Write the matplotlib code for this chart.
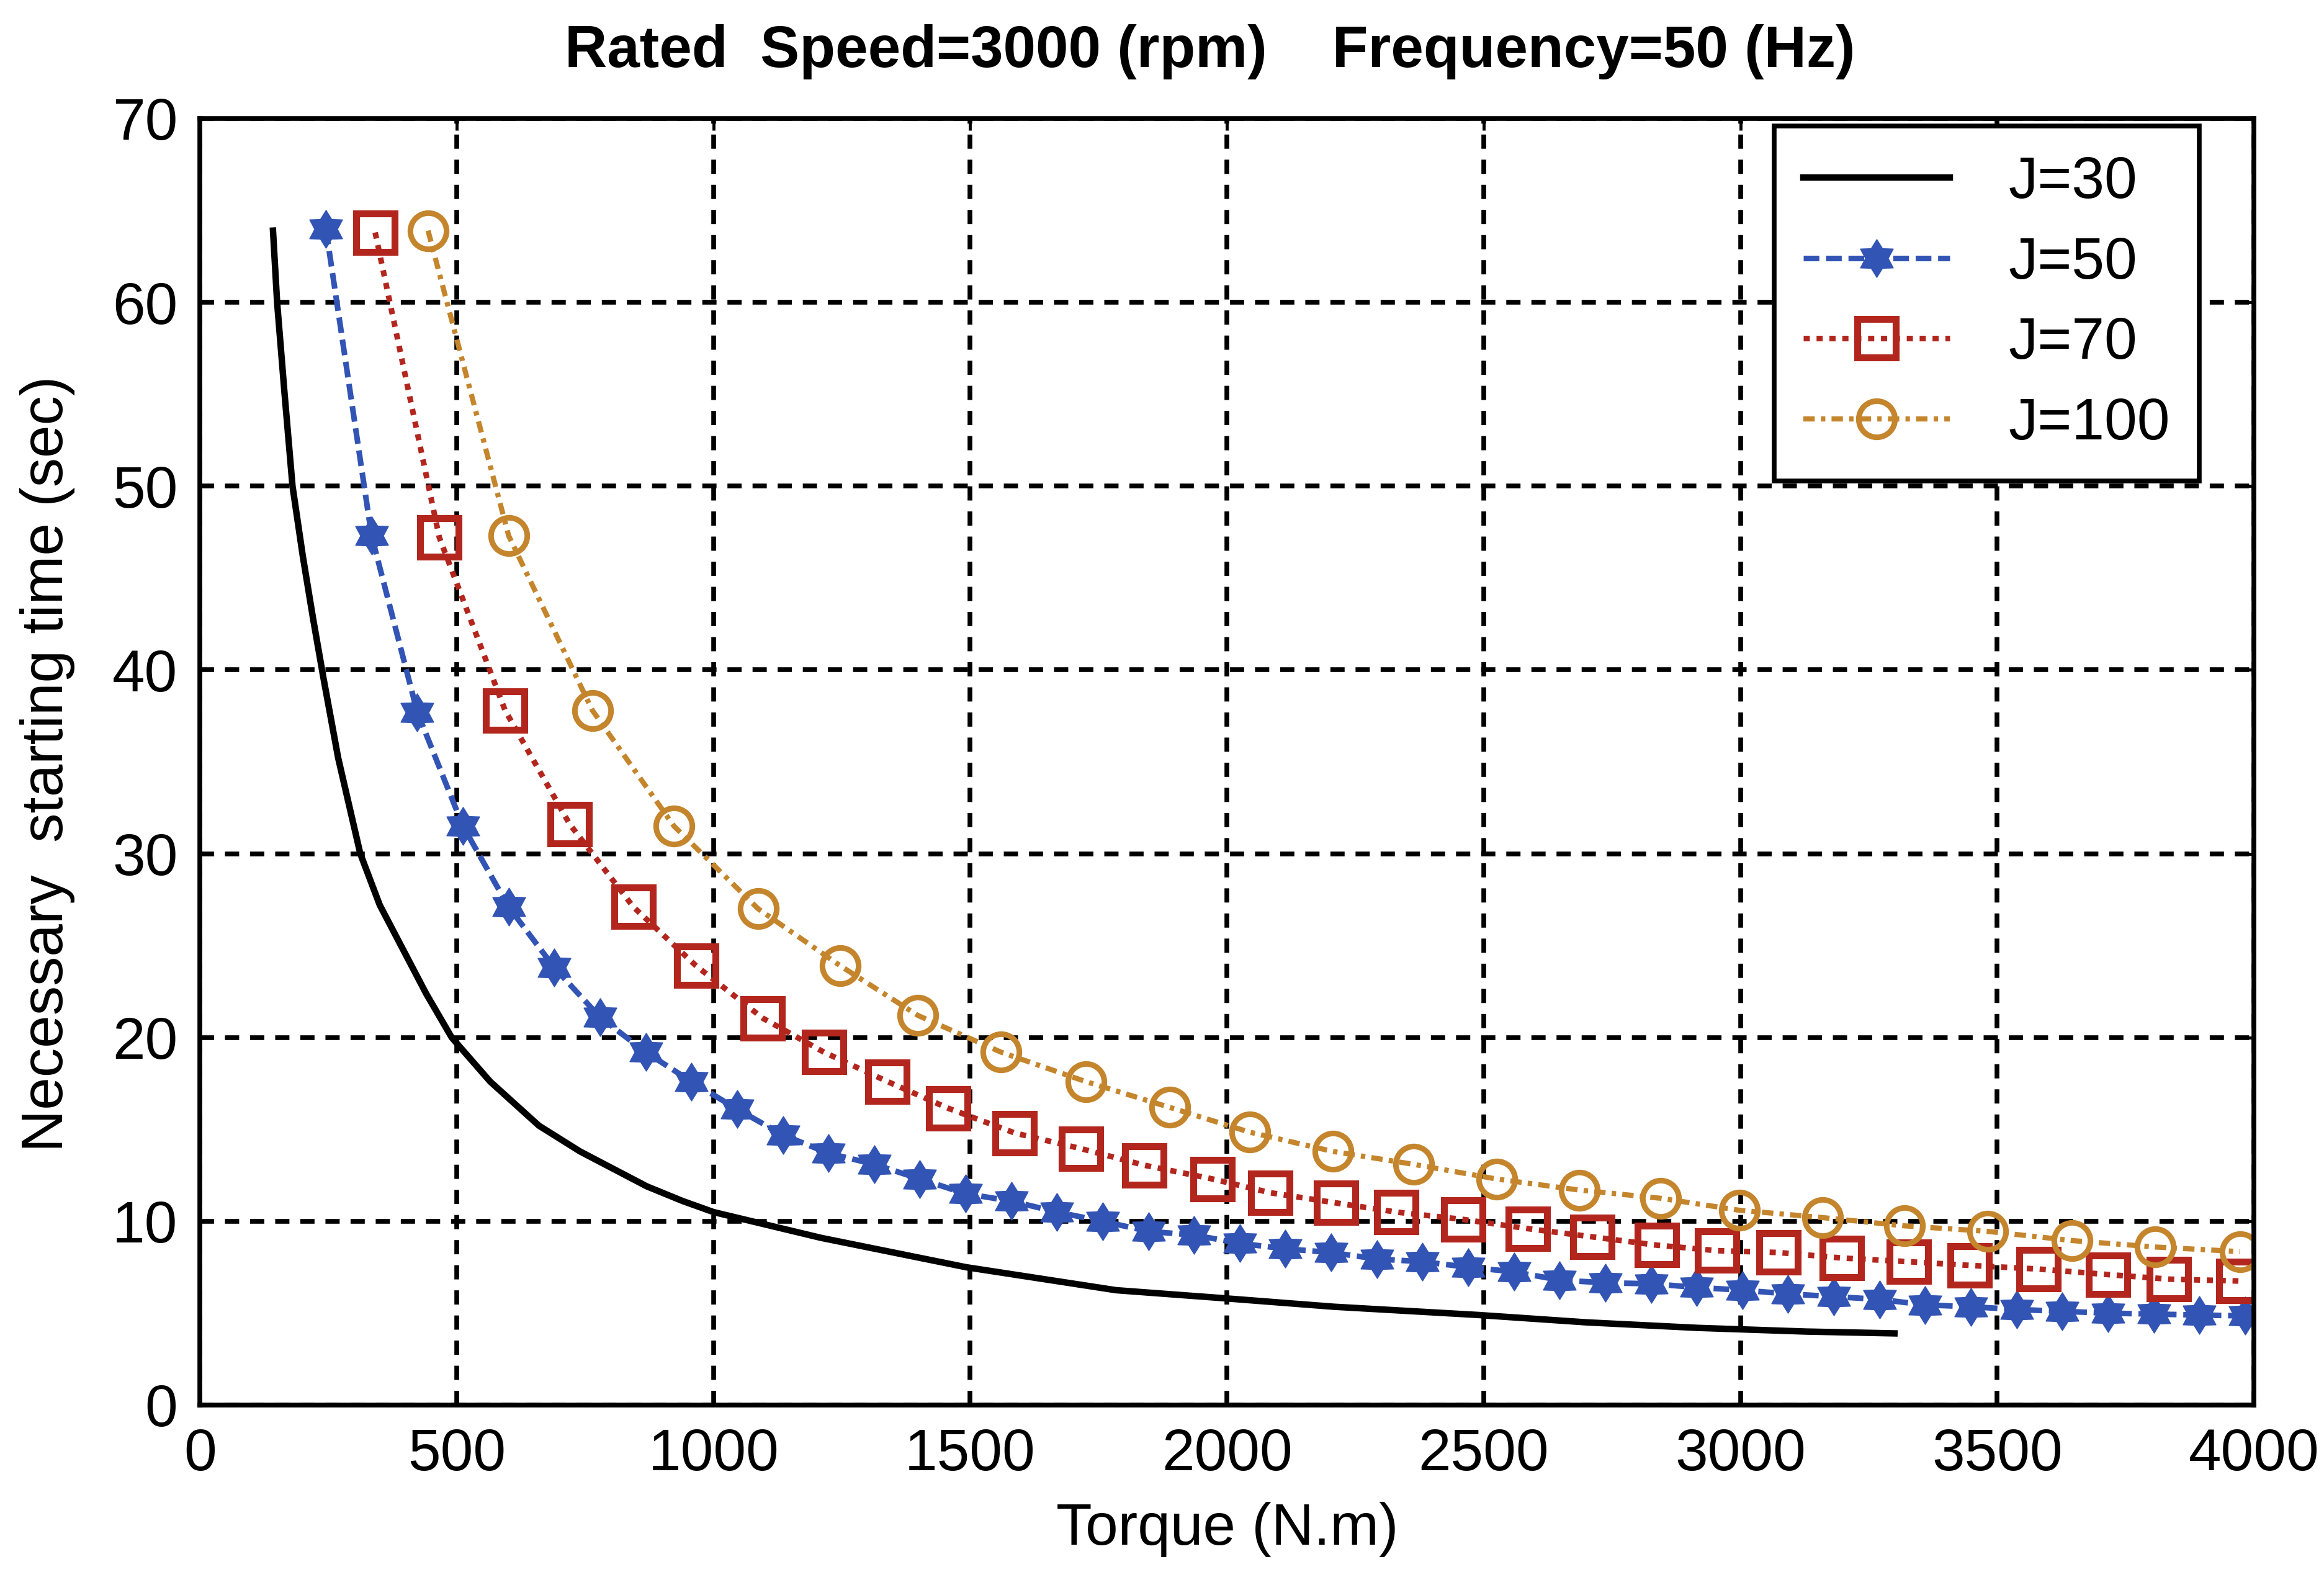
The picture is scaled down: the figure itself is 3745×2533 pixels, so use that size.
import matplotlib
matplotlib.use("Agg")
import matplotlib.pyplot as plt
from matplotlib.path import Path

OUTPUT_IMG = "out.png"

# Curves: torque (N.m) vs necessary starting time (sec)
torque_j30 = [142, 150, 164, 180, 200, 220, 240, 269, 312, 350, 395, 440, 490, 565, 660,
              740, 870, 940, 1000, 1209, 1492, 1784, 2000, 2208, 2490, 2700, 2916, 3127, 3300]
time_j30 = [63.9, 60.0, 55.2, 50.0, 46.2, 42.8, 39.6, 35.2, 30.0, 27.2, 24.8, 22.4, 20.0,
            17.6, 15.2, 13.8, 11.9, 11.1, 10.5, 9.1, 7.5, 6.25, 5.8, 5.35, 4.9, 4.5, 4.2,
            4.0, 3.9]

torque_j50 = [245, 334, 423, 512, 601, 690, 779, 868, 957, 1046, 1135, 1224, 1313, 1402,
              1491, 1580, 1669, 1758, 1847, 1936, 2025, 2114, 2203, 2292, 2381, 2470,
              2559, 2648, 2737, 2826, 2915, 3004, 3093, 3182, 3271, 3360, 3449, 3538,
              3627, 3716, 3805, 3894, 3983]
time_j50 = [64.0, 47.3, 37.7, 31.5, 27.1, 23.8, 21.1, 19.2, 17.6, 16.1, 14.7, 13.7, 13.1,
            12.3, 11.5, 11.1, 10.5, 10.0, 9.45, 9.25, 8.8, 8.5, 8.3, 7.95, 7.8, 7.5, 7.25,
            6.8, 6.65, 6.6, 6.4, 6.25, 6.05, 5.9, 5.75, 5.45, 5.35, 5.2, 5.1, 5.0, 4.95,
            4.9, 4.85]

torque_j70 = [341, 466, 594, 720, 844, 966, 1096, 1215, 1339, 1457, 1587, 1716, 1839,
              1972, 2085, 2212, 2330, 2460, 2586, 2712, 2837, 2955, 3074, 3198, 3328,
              3446, 3581, 3716, 3835, 3970]
time_j70 = [63.8, 47.2, 37.8, 31.6, 27.1, 23.9, 21.05, 19.2, 17.6, 16.15, 14.8, 13.95,
            13.05, 12.3, 11.55, 11.0, 10.5, 10.1, 9.6, 9.15, 8.7, 8.4, 8.3, 8.0, 7.8,
            7.6, 7.4, 7.1, 6.85, 6.75]

torque_j100 = [444, 601, 764, 923, 1087, 1247, 1398, 1560, 1725, 1888, 2044, 2206, 2363,
               2525, 2686, 2845, 2998, 3160, 3320, 3482, 3646, 3808, 3973]
time_j100 = [63.9, 47.3, 37.8, 31.5, 27.0, 23.9, 21.2, 19.2, 17.6, 16.2, 14.85, 13.8,
             13.1, 12.3, 11.7, 11.25, 10.6, 10.2, 9.75, 9.45, 8.95, 8.6, 8.35]

x_ticks = [0, 500, 1000, 1500, 2000, 2500, 3000, 3500, 4000]
y_ticks = [0, 10, 20, 30, 40, 50, 60, 70]

FS = 68
plt.rcParams["font.family"] = ["Liberation Sans", "DejaVu Sans"]

fig = plt.figure(figsize=(37.45, 25.33), dpi=100)
ax = fig.add_axes([0.0861, 0.1062, 0.8837, 0.8184])

# MATLAB style hexagram marker for J=50
hexagram = Path.unit_regular_star(6, 0.6)

ax.plot(torque_j30, time_j30, color="black", linewidth=7.5, linestyle="-", label="J=30")
ax.plot(torque_j50, time_j50, color="#3254b4", linewidth=6.5, linestyle=(0, (2.8, 1.2)),
        marker=hexagram, markersize=44, markerfacecolor="#3254b4",
        markeredgecolor="#3254b4", label="J=50")
ax.plot(torque_j70, time_j70, color="#b2261e", linewidth=6.5, linestyle=(0, (1.1, 1.2)),
        marker="s", markersize=44, markerfacecolor="none", markeredgewidth=8,
        markeredgecolor="#b2261e", label="J=70")
ax.plot(torque_j100, time_j100, color="#c4852c", linewidth=6, linestyle=(0, (2.2, 1.2, 0.85, 1.2)),
        marker="o", markersize=42, markerfacecolor="none", markeredgewidth=6.5,
        markeredgecolor="#c4852c", label="J=100")

ax.set_xlim(0, 4000)
ax.set_ylim(0, 70)
ax.set_xticks(x_ticks)
ax.set_yticks(y_ticks)
ax.tick_params(direction="in", top=True, right=True, length=14, width=3.5,
               labelsize=FS, pad=26)
for spine in ax.spines.values():
    spine.set_linewidth(5.5)
ax.grid(True, color="black", linewidth=5.5, linestyle=(0, (3.0, 2.3)))
ax.set_axisbelow(True)

fig.text(0.5207, 0.967, "Rated  Speed=3000 (rpm)    Frequency=50 (Hz)",
         ha="center", va="center", fontsize=FS, fontweight="bold")
fig.text(0.528, 0.027, "Torque (N.m)", ha="center", va="center", fontsize=FS)
fig.text(0.0204, 0.514, "Necessary  starting time (sec)", ha="center", va="center",
         rotation=90, fontsize=FS)

leg = ax.legend(loc="upper right", bbox_to_anchor=(3544 / 3745, 1 - 203 / 2533),
                bbox_transform=fig.transFigure, borderaxespad=0, fontsize=FS,
                numpoints=1, handlelength=2.5, handletextpad=1.0, labelspacing=0.43,
                borderpad=0.5, fancybox=False, framealpha=1, edgecolor="black")
leg.get_frame().set_linewidth(5.5)

fig.savefig(OUTPUT_IMG, dpi=100)
plt.close(fig)
